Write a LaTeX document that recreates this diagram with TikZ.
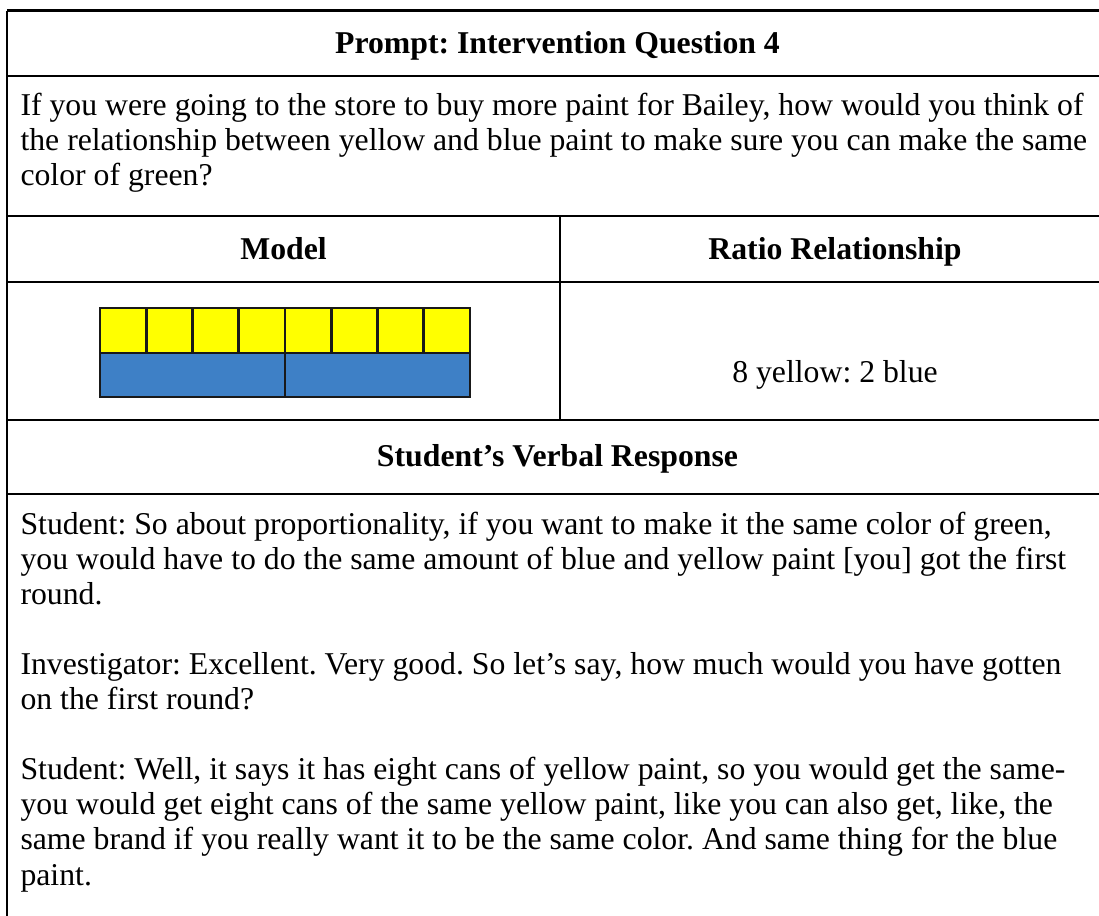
\documentclass[tikz,border=0pt]{standalone}
\usepackage{fontspec}
\setmainfont{Liberation Serif}
\frenchspacing
\definecolor{paintyellow}{RGB}{255,255,0}
\definecolor{paintblue}{RGB}{62,128,198}
\definecolor{barline}{RGB}{25,25,25}
\begin{document}
\begin{tikzpicture}[x=0.378pt, y=-0.378pt,
  rule/.style={line width=1pt, black},
  head/.style={font=\fontsize{12}{13.3}\selectfont\bfseries, inner sep=0pt, anchor=base},
  body/.style={font=\fontsize{12}{13.3}\selectfont, inner sep=0pt, anchor=base west},
  mid/.style={font=\fontsize{12}{13.3}\selectfont, inner sep=0pt, anchor=base},
  cellbox/.style={draw=barline, line width=1.1pt}]
\useasboundingbox (0,0) rectangle (1099,916);
\fill[white] (0,0) rectangle (1099,916);

% table grid
\coordinate (L0) at (7,10.5);    \coordinate (R0) at (1112,10.5);
\coordinate (L1) at (7,76);      \coordinate (R1) at (1112,76);
\coordinate (L2) at (7,216);     \coordinate (R2) at (1112,216);
\coordinate (L3) at (7,282);     \coordinate (R3) at (1112,282);
\coordinate (L4) at (7,420);     \coordinate (R4) at (1112,420);
\coordinate (L5) at (7,494);     \coordinate (R5) at (1112,494);
\coordinate (LB) at (7,920);
\coordinate (M2) at (560,216);   \coordinate (M4) at (560,420);
\draw[rule] (L0) -- (LB);
\foreach \k in {0,...,5} {\draw[rule] (L\k) -- (R\k);}
\draw[rule] (M2) -- (M4);

% title row
\node[head] (title) at (557.5,53.7) {Prompt: Intervention Question 4};

% prompt text
\node[body] (p1) at (20,115.7) {If you were going to the store to buy more paint for Bailey, how would you think of};
\node[body] (p2) at (20,150.8) {the relationship between yellow and blue paint to make sure you can make the same};
\node[body] (p3) at (20,185.9) {color of green?};

% column headers
\node[head] (model) at (283.5,259.5) {Model};
\node[head] (ratio) at (835,259.5) {Ratio Relationship};

% tape model: eight yellow parts over two blue parts
\foreach \i in {0,...,7} {
  \draw[cellbox, fill=paintyellow] ({100+46.25*\i},308) rectangle ({100+46.25*(\i+1)},353);
}
\draw[cellbox, fill=paintblue] (100,353) rectangle (285,397);
\draw[cellbox, fill=paintblue] (285,353) rectangle (470,397);

% ratio value
\node[mid] (value) at (835,382.5) {8 yellow: 2 blue};

% verbal response
\node[head] (verbal) at (557.5,466.5) {Student’s Verbal Response};
\node[body] (s1) at (20,534) {Student: So about proportionality, if you want to make it the same color of green,};
\node[body] (s2) at (20,569.1) {you would have to do the same amount of blue and yellow paint [you] got the first};
\node[body] (s3) at (20,604.2) {round.};
\node[body] (i1) at (20,674.4) {Investigator: Excellent. Very good. So let’s say, how much would you have gotten};
\node[body] (i2) at (20,709.5) {on the first round?};
\node[body] (w1) at (20,779.7) {Student: Well, it says it has eight cans of yellow paint, so you would get the same-};
\node[body] (w2) at (20,814.8) {you would get eight cans of the same yellow paint, like you can also get, like, the};
\node[body] (w3) at (20,849.9) {same brand if you really want it to be the same color. And same thing for the blue};
\node[body] (w4) at (20,885) {paint.};
\end{tikzpicture}
\end{document}
